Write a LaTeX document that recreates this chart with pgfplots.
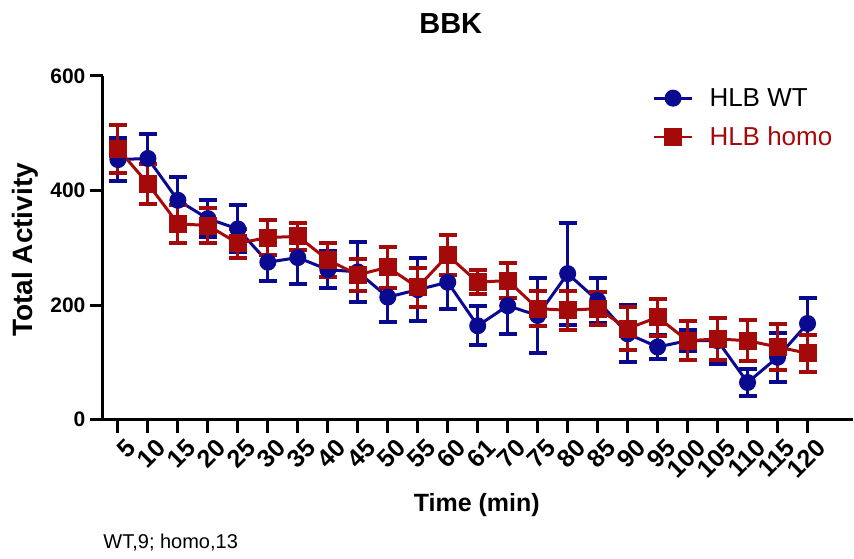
\documentclass[border=0pt]{standalone}
\usepackage{fontspec}
\setmainfont{Liberation Sans}
\usepackage{pgfplots}
\pgfplotsset{compat=1.18}
\usepackage{pgfplotstable}
\definecolor{wtblue}{RGB}{10,10,145}
\definecolor{homored}{RGB}{165,10,10}

\pgfplotstableread{
x y e
0 454 37
1 456 42
2 383 40
3 351 32
4 333 41
5 275 32
6 283 46
7 262 32
8 258 53
9 214 44
10 227 55
11 240 46
12 164 34
13 199 49
14 182 65
15 255 89
16 208 40
17 150 50
18 127 21
19 138 18
20 138 40
21 65 24
22 109 43
23 168 45
}\wtdata

\pgfplotstableread{
x y e
0 473 42
1 412 35
2 342 33
3 339 31
4 308 25
5 318 30
6 320 23
7 279 30
8 253 28
9 266 36
10 231 34
11 287 35
12 240 21
13 243 30
14 194 31
15 191 34
16 194 29
17 159 38
18 179 32
19 138 34
20 141 36
21 138 36
22 127 40
23 116 32
}\homodata

\begin{document}
\begin{tikzpicture}
\begin{axis}[
  scale only axis,
  width=750pt, height=344pt,
  xmin=-0.5, xmax=24.5, ymin=0, ymax=600,
  axis lines=left,
  axis line style={-, line width=3pt, black},
  xtick={0,...,23},
  xticklabels={5,10,15,20,25,30,35,40,45,50,55,60,61,70,75,80,85,90,95,100,105,110,115,120},
  ytick={0,200,400,600},
  tick style={line width=3pt, black},
  major tick length=13pt,
  tick align=outside,
  /pgf/number format/assume math mode=true,
  yticklabel style={font=\fontsize{21pt}{24pt}\selectfont\bfseries, xshift=-1pt},
  xticklabel style={font=\fontsize{25pt}{28pt}\selectfont\bfseries, rotate=45, anchor=north east, xshift=5pt, yshift=-5pt},
  clip=false,
  legend style={at={(rel axis cs:0.733,0.97)}, anchor=north west, draw=none, fill=none,
    font=\fontsize{26pt}{30pt}\selectfont, row sep=15pt, inner sep=0pt,
    /tikz/every odd column/.append style={column sep=14pt}},
  legend cell align=left,
  legend image code/.code={\draw[#1, mark repeat=2, mark phase=2] plot coordinates {(0pt,0pt)(19pt,0pt)(38pt,0pt)};},
]
\addplot[color=wtblue, line width=3pt, mark=*, mark size=7pt, mark options={solid},
  error bars/.cd, y dir=both, y explicit,
  error bar style={line width=3pt},
  error mark options={rotate=90, mark size=9pt, line width=4pt}]
  table[x=x, y=y, y error=e] {\wtdata};
\addlegendentry{HLB WT}
\addplot[color=homored, line width=3pt, mark=square*, mark size=7.5pt, mark options={solid},
  error bars/.cd, y dir=both, y explicit,
  error bar style={line width=3pt},
  error mark options={rotate=90, mark size=9pt, line width=4pt}]
  table[x=x, y=y, y error=e] {\homodata};
\addlegendentry{\textcolor{homored}{HLB homo}}
\end{axis}
\path (current axis.south west) ++(-103pt,-139pt) rectangle ++(854pt,559pt);
\node[font=\fontsize{29pt}{34pt}\selectfont\bfseries, anchor=base] at ([shift={(348pt,386pt)}]current axis.south west) {BBK};
\node[font=\fontsize{25pt}{29pt}\selectfont\bfseries, anchor=base] at ([shift={(374pt,-92pt)}]current axis.south west) {Time (min)};
\node[font=\fontsize{28pt}{32pt}\selectfont\bfseries, anchor=base, rotate=90] at ([shift={(-70pt,170pt)}]current axis.south west) {Total Activity};
\node[font=\fontsize{20pt}{24pt}\selectfont, anchor=base west] at ([shift={(-3pt,-129pt)}]current axis.south west) {WT,9; homo,13};
\end{tikzpicture}
\end{document}
